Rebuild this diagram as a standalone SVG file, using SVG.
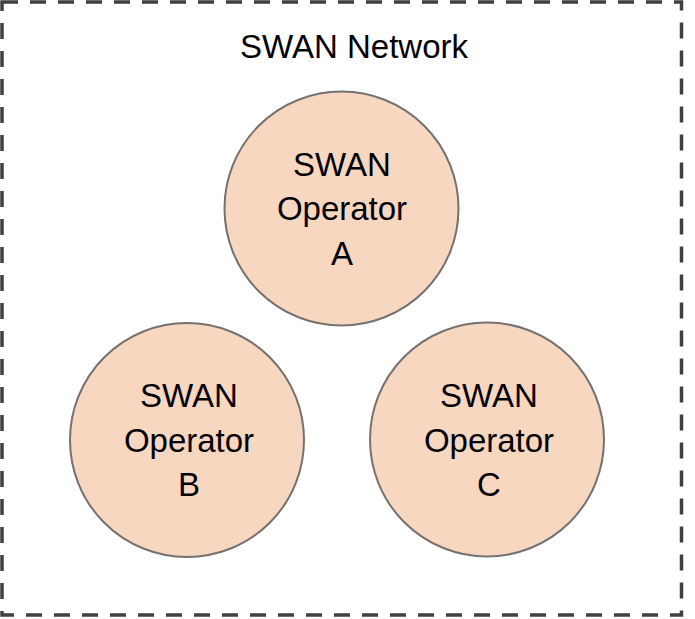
<svg xmlns="http://www.w3.org/2000/svg" width="695" height="619" viewBox="0 0 695 619">
<style>
.frame{fill:none;stroke:#404040;stroke-width:3.5;stroke-dasharray:16 12}
.op{fill:#F8D7C0;stroke:#767171;stroke-width:2}
text{font-family:"Liberation Sans",Arial,sans-serif;font-size:33px;fill:#000;text-anchor:middle}
</style>
<rect width="695" height="619" fill="#fff"/>
<g id="network">
<rect class="frame" x="2" y="2" width="679.5" height="613"/>
<text x="354" y="58">SWAN Network</text>
</g>
<g id="connectors"></g>
<g id="operatorA">
<circle class="op" cx="341.5" cy="208.5" r="117"/>
<text x="342" y="176">SWAN</text>
<text x="342" y="220">Operator</text>
<text x="342" y="265">A</text>
</g>
<g id="operatorB">
<circle class="op" cx="187" cy="440" r="117"/>
<text x="189" y="407">SWAN</text>
<text x="189" y="452">Operator</text>
<text x="189" y="496">B</text>
</g>
<g id="operatorC">
<circle class="op" cx="487" cy="439.5" r="117"/>
<text x="489" y="407">SWAN</text>
<text x="489" y="452">Operator</text>
<text x="489" y="496">C</text>
</g>
</svg>
